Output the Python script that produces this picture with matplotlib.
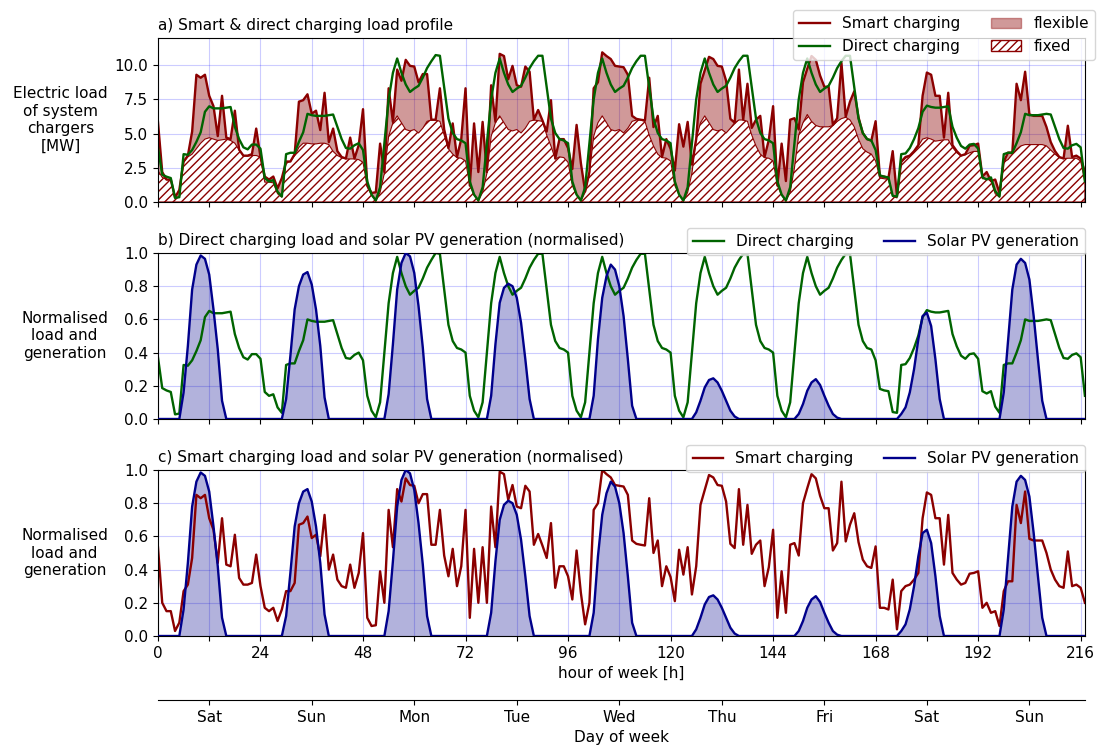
import numpy as np
import matplotlib.pyplot as plt
from matplotlib.patches import Patch

# hourly load of the system chargers [MW], one row per day (Sat .. Sun)
smart_mw = [
    5.86, 2.19, 1.64, 1.64, 0.33, 0.88, 2.96, 3.39, 5.15, 9.31, 9.09, 9.31, 7.77, 7.01, 4.82, 7.77, 4.71, 4.60, 6.68, 3.83, 3.39, 3.39, 3.50, 5.37,
    3.29, 1.86, 1.64, 1.86, 0.99, 1.75, 2.96, 2.96, 3.50, 7.34, 7.45, 7.88, 6.46, 6.68, 5.26, 7.99, 4.38, 5.37, 3.72, 3.29, 3.18, 4.71, 3.18, 4.16,
    6.79, 1.20, 0.66, 0.71, 4.27, 2.19, 8.32, 5.86, 9.69, 8.87, 10.40, 9.96, 9.91, 8.76, 9.36, 9.36, 6.02, 6.02, 8.32, 5.31, 3.94, 5.75, 3.29, 4.60,
    8.32, 1.20, 5.75, 2.19, 5.86, 2.19, 8.54, 5.86, 10.84, 10.68, 8.98, 9.96, 8.54, 8.43, 9.91, 9.53, 6.02, 6.73, 5.97, 5.15, 7.45, 3.18, 4.60, 4.60,
    3.94, 2.41, 5.64, 2.85, 0.77, 2.19, 8.32, 8.76, 10.95, 10.68, 10.46, 9.96, 9.91, 9.86, 9.31, 6.30, 6.08, 6.02, 5.97, 9.09, 5.48, 6.30, 3.29, 4.60,
    3.89, 2.30, 5.69, 4.05, 5.86, 2.74, 4.60, 8.65, 9.64, 10.62, 10.46, 9.96, 9.91, 8.87, 6.08, 5.80, 9.69, 6.02, 8.65, 5.42, 6.02, 6.30, 3.29, 4.54,
    7.01, 1.20, 4.27, 1.53, 6.02, 6.13, 5.31, 8.76, 9.75, 10.68, 10.40, 9.25, 8.43, 8.43, 5.64, 6.13, 10.18, 6.24, 7.34, 8.10, 6.19, 5.04, 4.60, 4.49,
    5.91, 1.86, 1.86, 1.75, 3.72, 0.44, 2.96, 3.29, 3.39, 3.72, 4.16, 7.77, 9.47, 9.31, 7.77, 7.77, 4.71, 7.99, 4.16, 3.72, 3.39, 3.50, 4.11, 4.16,
    4.27, 1.86, 2.19, 1.53, 1.64, 0.66, 2.96, 3.61, 3.61, 8.65, 7.45, 9.53, 6.41, 6.30, 6.30, 6.30, 5.48, 4.38, 3.72, 3.29, 3.18, 5.58, 3.29, 3.39,
    3.18, 2.19,
]

direct_mw = [
    4.0, 2.0, 1.85, 1.75, 0.3, 0.35, 3.5, 3.45, 3.8, 4.4, 5.1, 6.6, 7.0, 6.85, 6.85, 6.85, 6.9, 6.95, 5.5, 4.6, 4.0, 3.85, 4.2, 4.2,
    3.9, 1.75, 1.5, 1.6, 0.75, 0.4, 3.5, 3.6, 3.6, 4.4, 5.1, 6.45, 6.35, 6.3, 6.3, 6.3, 6.35, 6.4, 5.5, 4.6, 3.95, 3.9, 4.15, 4.3,
    3.8, 1.5, 0.54, 0.11, 1.08, 4.3, 7.5, 9.45, 10.5, 9.45, 8.6, 8.05, 8.3, 8.5, 9.1, 9.8, 10.3, 10.75, 10.7, 8.4, 6.1, 5.05, 4.6, 4.5,
    4.3, 1.5, 0.54, 0.11, 1.08, 4.3, 7.5, 9.45, 10.5, 9.45, 8.6, 8.05, 8.3, 8.5, 9.1, 9.8, 10.3, 10.7, 10.7, 8.4, 6.1, 5.05, 4.6, 4.5,
    4.3, 1.5, 0.54, 0.11, 1.08, 4.3, 7.5, 9.45, 10.5, 9.45, 8.6, 8.05, 8.3, 8.5, 9.1, 9.8, 10.3, 10.7, 10.7, 8.4, 6.1, 5.05, 4.6, 4.5,
    4.3, 1.5, 0.54, 0.11, 1.08, 4.3, 7.5, 9.45, 10.5, 9.45, 8.6, 8.05, 8.3, 8.5, 9.1, 9.8, 10.3, 10.7, 10.7, 8.4, 6.1, 5.05, 4.6, 4.5,
    4.3, 1.5, 0.54, 0.11, 1.08, 4.3, 7.5, 9.45, 10.5, 9.45, 8.6, 8.05, 8.3, 8.5, 9.1, 9.8, 10.3, 10.7, 10.7, 8.4, 6.1, 5.05, 4.6, 4.5,
    3.8, 1.95, 1.85, 1.8, 0.45, 0.4, 3.5, 3.55, 3.95, 4.6, 5.4, 6.6, 7.05, 6.95, 6.9, 6.9, 6.95, 7.0, 5.5, 4.7, 4.1, 3.9, 4.2, 4.25,
    3.9, 1.8, 1.65, 1.8, 0.8, 0.4, 3.5, 3.6, 3.6, 4.3, 5.1, 6.45, 6.35, 6.35, 6.35, 6.4, 6.45, 6.4, 5.5, 4.6, 3.95, 3.9, 4.15, 4.25,
    4.0, 1.5,
]

# non-shiftable part of the smart charging load [MW]
fixed_mw = [
    2.3, 1.8, 1.64, 1.6, 0.3, 0.35, 2.9, 3.3, 3.5, 3.9, 4.3, 4.6, 4.7, 4.6, 4.5, 4.55, 4.6, 4.5, 4.3, 3.8, 3.39, 3.35, 3.4, 3.4,
    3.29, 1.45, 1.45, 1.4, 0.6, 0.35, 2.9, 2.96, 3.4, 4.0, 4.3, 4.3, 4.25, 4.25, 4.3, 4.3, 4.2, 3.7, 3.4, 3.25, 3.15, 3.15, 3.15, 3.1,
    2.9, 1.1, 0.5, 0.07, 0.7, 2.1, 4.8, 5.8, 6.3, 5.8, 5.3, 5.2, 5.3, 5.05, 5.4, 5.9, 6.0, 6.0, 5.9, 4.9, 3.9, 3.5, 3.25, 3.2,
    3.0, 1.2, 0.5, 0.07, 0.7, 2.1, 4.8, 5.8, 6.3, 5.8, 5.3, 5.2, 5.3, 5.05, 5.4, 5.9, 6.0, 5.95, 5.9, 4.9, 4.1, 3.15, 3.3, 3.25,
    2.9, 1.2, 0.5, 0.07, 0.7, 2.1, 4.8, 5.8, 6.3, 5.8, 5.3, 5.2, 5.3, 5.05, 5.4, 5.9, 6.0, 6.0, 5.9, 4.9, 4.1, 3.5, 3.25, 3.2,
    3.0, 1.2, 0.5, 0.07, 0.7, 2.1, 4.6, 5.8, 6.3, 5.8, 5.3, 5.2, 5.3, 5.05, 5.4, 5.8, 6.0, 6.0, 5.9, 4.9, 4.1, 3.5, 3.25, 3.2,
    3.0, 1.2, 0.5, 0.07, 0.7, 2.5, 4.9, 5.8, 6.4, 5.9, 5.6, 5.5, 5.5, 5.5, 5.6, 5.9, 6.1, 6.2, 6.0, 5.5, 4.6, 3.9, 3.65, 3.5,
    3.0, 1.75, 1.7, 1.65, 0.4, 0.3, 2.9, 3.2, 3.39, 3.7, 4.1, 4.6, 4.7, 4.6, 4.45, 4.5, 4.55, 4.55, 4.0, 3.6, 3.39, 3.45, 3.6, 3.7,
    3.7, 1.7, 1.7, 1.53, 0.6, 0.35, 2.96, 3.1, 3.5, 3.85, 4.1, 4.2, 4.2, 4.2, 4.2, 4.2, 4.1, 3.8, 3.5, 3.25, 3.18, 3.2, 3.2, 3.2,
    3.0, 1.45,
]

# normalised solar PV generation
solar_norm = [
    0, 0, 0, 0, 0, 0, 0.16, 0.44, 0.78, 0.93, 0.985, 0.965, 0.87, 0.66, 0.42, 0.11, 0, 0, 0, 0, 0, 0, 0, 0,
    0, 0, 0, 0, 0, 0, 0.12, 0.38, 0.66, 0.80, 0.87, 0.885, 0.81, 0.66, 0.44, 0.13, 0, 0, 0, 0, 0, 0, 0, 0,
    0, 0, 0, 0, 0, 0, 0.15, 0.45, 0.78, 0.94, 1.0, 0.98, 0.88, 0.68, 0.43, 0.12, 0, 0, 0, 0, 0, 0, 0, 0,
    0, 0, 0, 0, 0, 0, 0.14, 0.45, 0.70, 0.79, 0.815, 0.80, 0.73, 0.58, 0.36, 0.12, 0, 0, 0, 0, 0, 0, 0, 0,
    0, 0, 0, 0, 0, 0, 0.14, 0.48, 0.73, 0.86, 0.93, 0.90, 0.80, 0.62, 0.36, 0.08, 0, 0, 0, 0, 0, 0, 0, 0,
    0, 0, 0, 0, 0, 0, 0.04, 0.11, 0.19, 0.235, 0.245, 0.22, 0.17, 0.11, 0.05, 0.015, 0, 0, 0, 0, 0, 0, 0, 0,
    0, 0, 0, 0, 0, 0, 0.03, 0.09, 0.17, 0.22, 0.24, 0.205, 0.14, 0.08, 0.03, 0.008, 0, 0, 0, 0, 0, 0, 0, 0,
    0, 0, 0, 0, 0, 0, 0.03, 0.07, 0.16, 0.30, 0.48, 0.62, 0.64, 0.56, 0.36, 0.12, 0, 0, 0, 0, 0, 0, 0, 0,
    0, 0, 0, 0, 0, 0, 0.16, 0.47, 0.78, 0.93, 0.965, 0.94, 0.84, 0.62, 0.36, 0.11, 0, 0, 0, 0, 0, 0, 0, 0,
    0, 0,
]

day_names = ['Sat', 'Sun', 'Mon', 'Tue', 'Wed', 'Thu', 'Fri', 'Sat', 'Sun']

hours = np.arange(len(smart_mw))
smart = np.array(smart_mw)
direct = np.array(direct_mw)
fixed = np.array(fixed_mw)
solar = np.array(solar_norm)

smart_n = smart / smart.max()
direct_n = direct / direct.max()

RED = '#8b0000'
GREEN = '#006400'
BLUE = '#00008b'

plt.rcParams['font.size'] = 11
plt.rcParams['hatch.linewidth'] = 1.0

fig = plt.figure(figsize=(11, 7.45), dpi=100)
left, width = 0.1436, 0.8427
ax_a = fig.add_axes([left, 0.7289, width, 0.2201])
ax_b = fig.add_axes([left, 0.4376, width, 0.2228])
ax_c = fig.add_axes([left, 0.1463, width, 0.2228])

xt = np.arange(0, 217, 12)
for ax in (ax_a, ax_b, ax_c):
    ax.set_xlim(0, hours[-1])
    ax.set_xticks(xt)
    ax.set_xticklabels([])
    ax.grid(True, color='blue', alpha=0.2, linewidth=0.8)
    ax.set_axisbelow(True)

# a) smart & direct charging in MW
ax_a.fill_between(hours, fixed, smart, color=RED, alpha=0.4, linewidth=0)
ax_a.fill_between(hours, 0, fixed, facecolor='white', edgecolor=RED, hatch='////',
                  linewidth=0.8)
l_smart, = ax_a.plot(hours, smart, color=RED, lw=1.7)
l_direct, = ax_a.plot(hours, direct, color=GREEN, lw=1.7)
ax_a.set_ylim(0, 12)
ax_a.set_yticks([0, 2.5, 5, 7.5, 10])
ax_a.set_yticklabels(['0.0', '2.5', '5.0', '7.5', '10.0'])
ax_a.set_title('a) Smart & direct charging load profile', loc='left', fontsize=11)
ax_a.set_ylabel('Electric load\nof system\nchargers\n[MW]', rotation=0, ha='right',
                va='center', multialignment='center')
ax_a.yaxis.set_label_coords(-0.054, 0.5)
h_flex = Patch(facecolor=RED, alpha=0.4, edgecolor=RED)
h_fix = Patch(facecolor='white', edgecolor=RED, hatch='////')
ax_a.legend([l_smart, l_direct, h_flex, h_fix],
            ['Smart charging', 'Direct charging', 'flexible', 'fixed'],
            ncol=2, loc='upper left', bbox_to_anchor=(0.685, 1.17), borderaxespad=0)

# b) direct charging vs. solar PV
ax_b.fill_between(hours, 0, solar, color=BLUE, alpha=0.3, linewidth=0, zorder=1)
ax_b.plot(hours, direct_n, color=GREEN, lw=1.7, label='Direct charging', zorder=2)
ax_b.plot(hours, solar, color=BLUE, lw=1.7, label='Solar PV generation', zorder=3)
ax_b.set_ylim(0, 1)
ax_b.set_yticks(np.arange(0, 1.01, 0.2))
ax_b.set_title('b) Direct charging load and solar PV generation (normalised)', loc='left', fontsize=11)
ax_b.legend(ncol=2, loc='upper right', bbox_to_anchor=(1.0, 1.15), borderaxespad=0)

# c) smart charging vs. solar PV
ax_c.fill_between(hours, 0, solar, color=BLUE, alpha=0.3, linewidth=0, zorder=1)
ax_c.plot(hours, smart_n, color=RED, lw=1.7, label='Smart charging', zorder=2)
ax_c.plot(hours, solar, color=BLUE, lw=1.7, label='Solar PV generation', zorder=3)
ax_c.set_ylim(0, 1)
ax_c.set_yticks(np.arange(0, 1.01, 0.2))
ax_c.set_title('c) Smart charging load and solar PV generation (normalised)', loc='left', fontsize=11)
ax_c.legend(ncol=2, loc='upper right', bbox_to_anchor=(1.0, 1.15), borderaxespad=0)
ax_c.set_xticklabels([str(h) if h % 24 == 0 else '' for h in xt])
ax_c.set_xlabel('hour of week [h]')

for ax in (ax_b, ax_c):
    ax.set_ylabel('Normalised\nload and\ngeneration', rotation=0, ha='right',
                  va='center', multialignment='center')
    ax.yaxis.set_label_coords(-0.054, 0.5)

# second x axis below with the day names
ax_d = ax_c.twiny()
ax_d.set_xlim(ax_c.get_xlim())
ax_d.xaxis.set_ticks_position('bottom')
ax_d.xaxis.set_label_position('bottom')
ax_d.spines['bottom'].set_position(('outward', 46))
for s in ('top', 'left', 'right'):
    ax_d.spines[s].set_visible(False)
ax_d.set_xticks(12 + 24 * np.arange(len(day_names)))
ax_d.set_xticklabels(day_names)
ax_d.set_xlabel('Day of week')

fig.savefig('out.png', dpi=100)
